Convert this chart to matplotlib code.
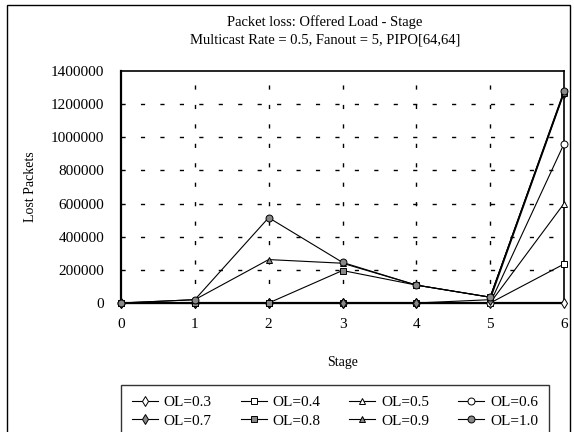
import matplotlib.pyplot as plt
from matplotlib.patches import Rectangle

# stages on the x axis
stages = [0, 1, 2, 3, 4, 5, 6]

# lost packets per offered load
ol_03 = [0, 0, 0, 0, 0, 0, 0]
ol_04 = [0, 0, 0, 0, 0, 0, 235000]
ol_05 = [0, 0, 0, 0, 0, 0, 600000]
ol_06 = [0, 0, 0, 0, 0, 0, 960000]
ol_07 = [0, 0, 0, 0, 0, 20000, 1265000]
ol_08 = [0, 0, 0, 196000, 108000, 35000, 1275000]
ol_09 = [0, 20000, 262000, 240000, 108000, 35000, 1270000]
ol_10 = [0, 20000, 515000, 245000, 108000, 35000, 1280000]

labels = ["OL=0.3", "OL=0.4", "OL=0.5", "OL=0.6",
          "OL=0.7", "OL=0.8", "OL=0.9", "OL=1.0"]
series = [ol_03, ol_04, ol_05, ol_06, ol_07, ol_08, ol_09, ol_10]
markers = ["d", "s", "^", "o", "d", "s", "^", "o"]
fills = ["white", "white", "white", "white", "#888888", "#888888", "#888888", "#888888"]

yticks = [0, 200000, 400000, 600000, 800000, 1000000, 1200000, 1400000]

plt.rcParams['font.family'] = ['Liberation Serif', 'DejaVu Serif']

fig = plt.figure(figsize=(5.74, 4.32), dpi=100)
ax = fig.add_axes([121 / 574, 1 - 303 / 432, 443 / 574, 232 / 432])

# outer frame around the whole figure
fig.patches.append(Rectangle((7 / 574, -0.05), 563 / 574, 1.05 - 5 / 432,
                             transform=fig.transFigure, fill=False,
                             edgecolor="black", linewidth=1.0))

# dashed grid
for v in yticks[1:-1]:
    ax.axhline(v, color="black", linewidth=1.0, linestyle=(0, (3, 11)), zorder=0)
for s in stages[1:-1]:
    ax.axvline(s, color="black", linewidth=1.0, linestyle=(0, (3, 11)), zorder=0)

handles = []
for vals, lab, m, fc in zip(series, labels, markers, fills):
    h, = ax.plot(stages, vals, color="black", linewidth=0.8, marker=m,
                 markersize=5, markerfacecolor=fc, markeredgecolor="black",
                 markeredgewidth=0.7, label=lab, clip_on=False, zorder=3)
    handles.append(h)

ax.set_xlim(0, 6)
ax.set_ylim(0, 1400000)
ax.set_xticks(stages)
ax.set_yticks(yticks)
ax.set_yticklabels([str(v) for v in yticks])
ax.tick_params(length=0, labelsize=11)
ax.tick_params(axis="y", pad=12)
ax.tick_params(axis="x", pad=11)
for side in ["left", "bottom"]:
    ax.spines[side].set_linewidth(1.6)
for side in ["top", "right"]:
    ax.spines[side].set_linewidth(1.2)

ax.set_xlabel("Stage", fontsize=10, labelpad=18)
ax.set_ylabel("Lost Packets", fontsize=10, labelpad=10)
fig.text(325 / 574, 1 - 22 / 432, "Packet loss: Offered Load - Stage",
         fontsize=10.5, ha="center", va="center")
fig.text(325 / 574, 1 - 40 / 432, "Multicast Rate = 0.5, Fanout = 5, PIPO[64,64]",
         fontsize=10.5, ha="center", va="center")

# legend fills row by row: reorder for column-major layout
order = [0, 4, 1, 5, 2, 6, 3, 7]
leg = fig.legend(handles=[handles[i] for i in order],
                 labels=[labels[i] for i in order], ncol=4, loc="upper left",
                 bbox_to_anchor=(121 / 574, 1 - 385 / 432, 428 / 574, 0.0),
                 mode="expand", fontsize=11, frameon=True, fancybox=False,
                 edgecolor="black", handlelength=1.7, handletextpad=0.4,
                 borderpad=0.7, labelspacing=0.3, borderaxespad=0.0)
leg.get_frame().set_linewidth(1.0)

fig.savefig("out.png", dpi=100)
